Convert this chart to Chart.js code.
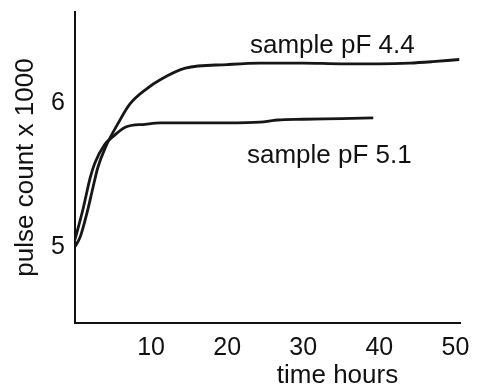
<!DOCTYPE html>
<html>
<head>
<meta charset="utf-8">
<script src="https://cdn.jsdelivr.net/npm/chart.js@4"></script>
<style>
  html, body { margin: 0; padding: 0; background: #fff; }
  #wrap { width: 477px; height: 385px; }
</style>
</head>
<body>
<div id="wrap"><canvas id="grafico" width="477" height="385"></canvas></div>
<script>
// valores (tempo em horas, contagem x 1000)
const tempoPF44 = [0, 0.7, 1.6, 2.4, 3, 4, 5.7, 7.2, 9.5, 11.2, 14.5, 20, 24.3, 30, 35, 40, 44, 47, 50.5];
const contagemPF44 = [5.0, 5.07, 5.24, 5.42, 5.55, 5.69, 5.86, 5.99, 6.10, 6.16, 6.24, 6.265, 6.275, 6.275, 6.27, 6.27, 6.275, 6.285, 6.30];

const tempoPF51 = [0, 1.05, 2, 2.6, 3.9, 4.9, 6.6, 9.2, 11.2, 15, 20, 24.3, 26.6, 30, 35, 39.2];
const contagemPF51 = [5.05, 5.26, 5.48, 5.58, 5.71, 5.76, 5.83, 5.85, 5.86, 5.86, 5.86, 5.865, 5.88, 5.885, 5.89, 5.895];

const ticksX = [10, 20, 30, 40, 50];
const ticksY = [5, 6];

const rotulos = [
    { texto: 'sample pF 4.4', t: 23, v: 6.347 },
    { texto: 'sample pF 5.1', t: 22.6, v: 5.583 }
];

function pares(xs, ys) {
    return xs.map((x, i) => ({ x: x, y: ys[i] }));
}

// escreve os rótulos das curvas e o título do eixo x
const textosExtras = {
    id: 'textosExtras',
    afterDraw(chart) {
        const ctx = chart.ctx;
        const sx = chart.scales.x;
        const sy = chart.scales.y;
        ctx.save();
        ctx.fillStyle = '#111';
        ctx.font = '26px "Liberation Sans", Arial, sans-serif';
        ctx.textAlign = 'left';
        ctx.textBaseline = 'alphabetic';
        rotulos.forEach(r => {
            ctx.fillText(r.texto, sx.getPixelForValue(r.t), sy.getPixelForValue(r.v));
        });
        ctx.textAlign = 'center';
        ctx.fillText('time hours', sx.getPixelForValue(34.5), 383);
        ctx.restore();
    }
};

const ctx = document.getElementById('grafico').getContext('2d');

window.graficoPulsos = new Chart(ctx, {
    type: 'line',
    data: {
        datasets: [{
            label: 'sample pF 4.4',
            data: pares(tempoPF44, contagemPF44),
            borderColor: '#161616',
            borderWidth: 2.8,
            pointRadius: 0,
            fill: false,
            cubicInterpolationMode: 'monotone'
        }, {
            label: 'sample pF 5.1',
            data: pares(tempoPF51, contagemPF51),
            borderColor: '#161616',
            borderWidth: 2.8,
            pointRadius: 0,
            fill: false,
            cubicInterpolationMode: 'monotone'
        }]
    },
    options: {
        responsive: false,
        animation: false,
        layout: {
            padding: { top: 12, right: 17, left: 0, bottom: 0 }
        },
        plugins: {
            legend: { display: false },
            tooltip: { enabled: false }
        },
        scales: {
            x: {
                type: 'linear',
                min: 0,
                max: 50.6,
                afterBuildTicks: (scale) => {
                    scale.ticks = ticksX.map(v => ({ value: v }));
                },
                afterFit: (scale) => {
                    scale.height = 62;
                    scale.paddingLeft = 0;
                    scale.paddingRight = 0;
                },
                grid: { display: false, drawTicks: false },
                border: { display: true, color: '#111', width: 2 },
                ticks: {
                    color: '#111',
                    padding: 10,
                    maxRotation: 0,
                    font: { family: '"Liberation Sans", Arial, sans-serif', size: 25 }
                }
            },
            y: {
                type: 'linear',
                min: 4.47,
                max: 6.63,
                afterBuildTicks: (scale) => {
                    scale.ticks = ticksY.map(v => ({ value: v }));
                },
                afterFit: (scale) => {
                    scale.width = 75;
                    scale.paddingTop = 0;
                    scale.paddingBottom = 0;
                },
                grid: { display: false, drawTicks: false },
                border: { display: true, color: '#111', width: 2 },
                ticks: {
                    color: '#111',
                    padding: 10,
                    font: { family: '"Liberation Sans", Arial, sans-serif', size: 25 }
                },
                title: {
                    display: true,
                    text: 'pulse count x 1000',
                    color: '#111',
                    padding: { top: 10, bottom: 0 },
                    font: { family: '"Liberation Sans", Arial, sans-serif', size: 26 }
                }
            }
        }
    },
    plugins: [textosExtras]
});
</script>
</body>
</html>
